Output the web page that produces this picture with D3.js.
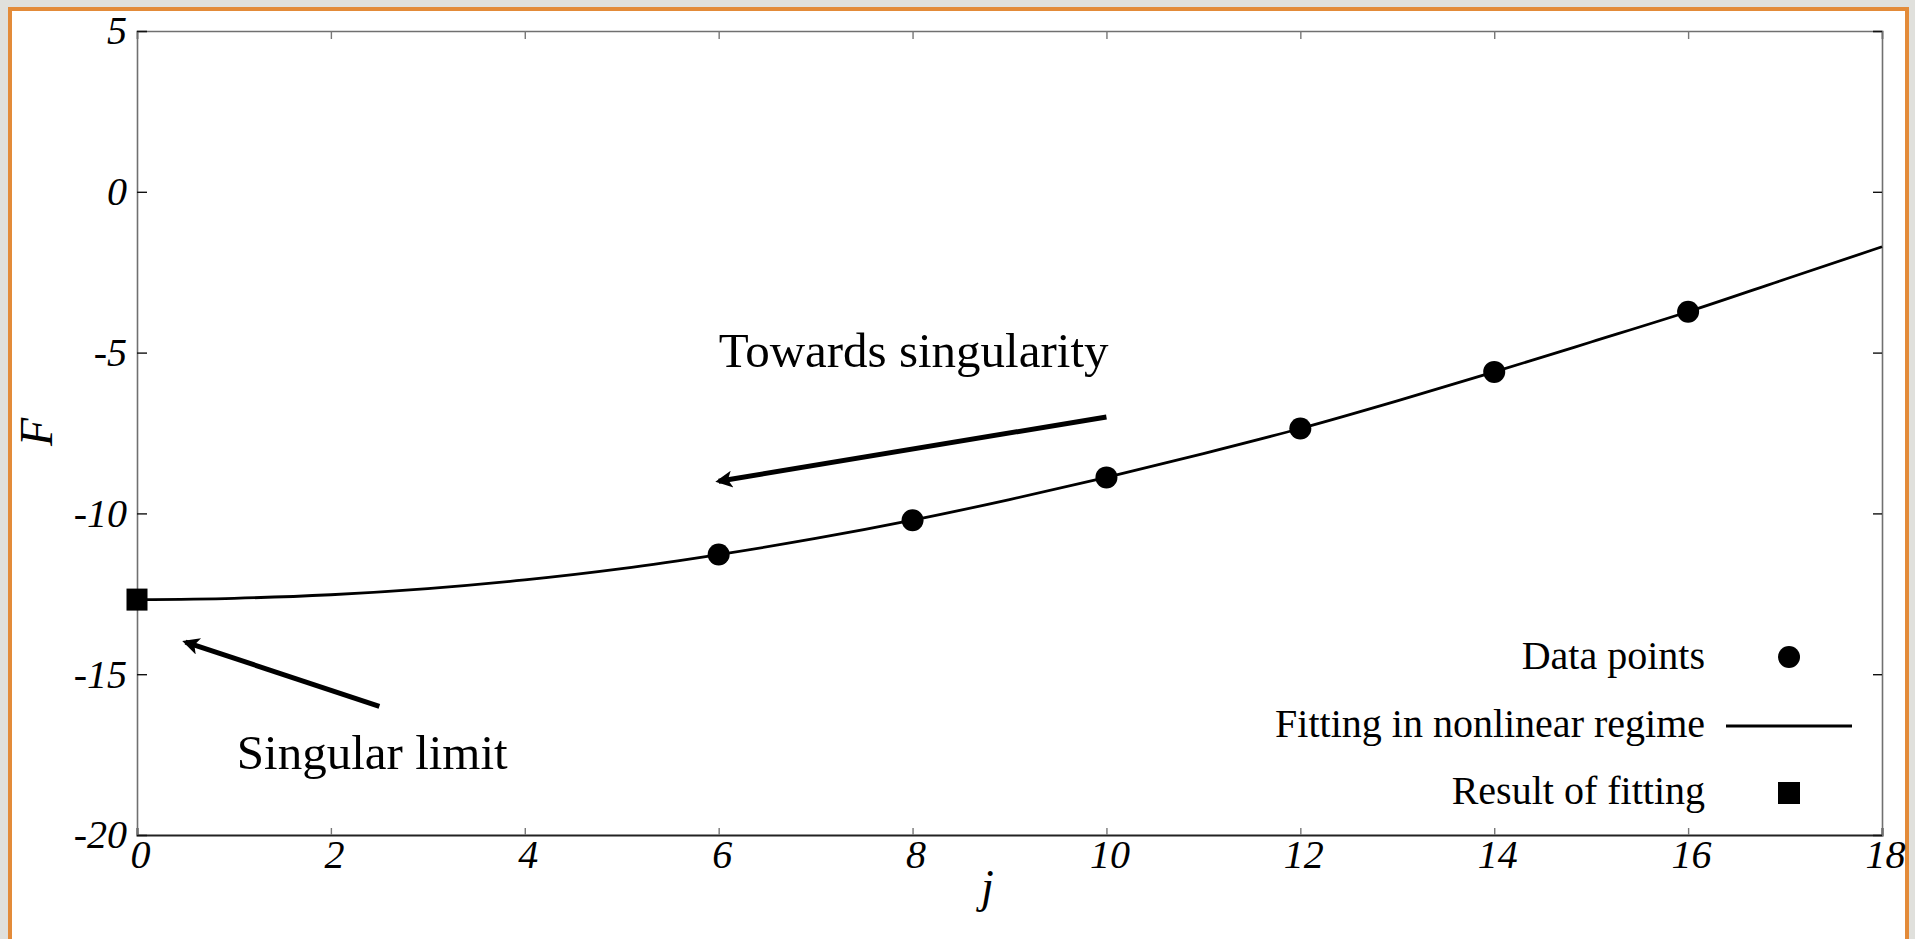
<!DOCTYPE html>
<html>
<head>
<meta charset="utf-8">
<script src="https://cdn.jsdelivr.net/npm/d3@7"></script>
<style>
  body { margin: 0; background: #e0e0dc; overflow: hidden; }
  text { font-family: "Liberation Serif", "Times New Roman", serif; fill: #000; }
  .tick-label { font-style: italic; font-size: 40px; }
</style>
</head>
<body>
<div id="chart"></div>
<script>
// Values
const DATA_J = [6, 8, 10, 12, 14, 16];
const DATA_F = [-11.28, -10.21, -8.88, -7.36, -5.60, -3.73];

const FIT_J = [0, 1, 2, 3, 4, 5, 6, 7, 8, 9, 10, 11, 12, 13, 14, 15, 16, 17, 18];
const FIT_F = [-12.68, -12.64, -12.53, -12.34, -12.07, -11.72, -11.28, -10.78, -10.21,
               -9.57, -8.88, -8.14, -7.36, -6.50, -5.60, -4.67, -3.73, -2.72, -1.71];

const RESULT_J = [0];
const RESULT_F = [-12.68];

const X_TICKS = [0, 2, 4, 6, 8, 10, 12, 14, 16, 18];
const Y_TICKS = [5, 0, -5, -10, -15, -20];

const LEGEND_LABELS = ['Data points', 'Fitting in nonlinear regime', 'Result of fitting'];

// annotations: [fromJ, fromF, toJ, toF]
const ARROWS = [[10, -7.0, 6, -9.0], [2.5, -16.0, 0.5, -14.0]];
const NOTES = [
  { text: 'Towards singularity', j: 6.0, f: -5.45 },
  { text: 'Singular limit', j: 1.03, f: -17.95 }
];

const W = 1915, H = 939;
const plot = { left: 137, right: 1882, top: 31, bottom: 835 };

const svg = d3.select('#chart').append('svg')
  .attr('width', W).attr('height', H);

// page frame
svg.append('rect').attr('width', W).attr('height', H).attr('fill', '#e0e0dc');
svg.append('rect')
  .attr('x', 10).attr('y', 9).attr('width', 1897).attr('height', 1000)
  .attr('fill', '#fff').attr('stroke', '#e38b39').attr('stroke-width', 4);

const x = d3.scaleLinear().domain([0, 18]).range([plot.left, plot.right]);
const y = d3.scaleLinear().domain([-20, 5]).range([plot.bottom, plot.top]);

// axes
const fmt = d => String(d);

const gBottom = svg.append('g').attr('transform', `translate(0,${plot.bottom})`)
  .call(d3.axisBottom(x).tickValues(X_TICKS).tickSize(-7).tickPadding(5).tickFormat(fmt));
const gTop = svg.append('g').attr('transform', `translate(0,${plot.top})`)
  .call(d3.axisTop(x).tickValues(X_TICKS).tickSize(-8).tickFormat(''));
const gLeft = svg.append('g').attr('transform', `translate(${plot.left},0)`)
  .call(d3.axisLeft(y).tickValues(Y_TICKS).tickSize(-10).tickPadding(10).tickFormat(fmt));
const gRight = svg.append('g').attr('transform', `translate(${plot.right},0)`)
  .call(d3.axisRight(y).tickValues(Y_TICKS).tickSize(-9).tickFormat(''));

[gTop, gLeft, gRight].forEach(g => g.select('.domain').attr('stroke', '#707070').attr('stroke-width', 1.6));
gBottom.select('.domain').attr('stroke', '#222').attr('stroke-width', 2);
gBottom.selectAll('.tick line').attr('stroke', '#777').attr('stroke-width', 1.4);
gTop.selectAll('.tick line').attr('stroke', '#777').attr('stroke-width', 1.4);
gLeft.selectAll('.tick line').attr('stroke', '#111').attr('stroke-width', 1.4);
gRight.selectAll('.tick line').attr('stroke', '#111').attr('stroke-width', 1.4);

[gBottom, gLeft].forEach(g => {
  g.attr('font-size', null).attr('font-family', null);
  g.selectAll('.tick text').attr('class', 'tick-label').attr('fill', '#000');
});
gBottom.selectAll('.tick text').attr('dx', 3);

// axis titles
svg.append('text')
  .attr('x', x(9) - 22).attr('y', 902)
  .attr('text-anchor', 'middle')
  .style('font-style', 'italic').style('font-size', '46px')
  .text('j');

svg.append('text')
  .attr('transform', `translate(52,${y(-7.5) - 1}) rotate(-90)`)
  .attr('text-anchor', 'middle')
  .style('font-style', 'italic').style('font-size', '46px')
  .text('F');

// fitted curve
const fit = FIT_J.map((j, i) => [j, FIT_F[i]]);
svg.append('path')
  .datum(fit)
  .attr('fill', 'none').attr('stroke', '#000').attr('stroke-width', 2.8)
  .attr('d', d3.line().x(d => x(d[0])).y(d => y(d[1])).curve(d3.curveMonotoneX));

// data points
svg.append('g').selectAll('circle')
  .data(DATA_J.map((j, i) => [j, DATA_F[i]]))
  .join('circle')
  .attr('cx', d => x(d[0])).attr('cy', d => y(d[1])).attr('r', 11)
  .attr('fill', '#000');

// result of fitting
svg.append('g').selectAll('rect')
  .data(RESULT_J.map((j, i) => [j, RESULT_F[i]]))
  .join('rect')
  .attr('x', d => x(d[0]) - 10.5).attr('y', d => y(d[1]) - 11)
  .attr('width', 21).attr('height', 22)
  .attr('fill', '#000');

// arrows
svg.append('defs').append('marker')
  .attr('id', 'head')
  .attr('viewBox', '0 0 10 10')
  .attr('refX', 8).attr('refY', 5)
  .attr('markerWidth', 3.8).attr('markerHeight', 3.4)
  .attr('orient', 'auto')
  .append('path').attr('d', 'M0,0 L10,5 L0,10 L2.5,5 Z').attr('fill', '#000');

svg.append('g').selectAll('line')
  .data(ARROWS)
  .join('line')
  .attr('x1', d => x(d[0])).attr('y1', d => y(d[1]))
  .attr('x2', d => x(d[2])).attr('y2', d => y(d[3]))
  .attr('stroke', '#000').attr('stroke-width', 5)
  .attr('marker-end', 'url(#head)');

svg.append('g').selectAll('text')
  .data(NOTES)
  .join('text')
  .attr('x', d => x(d.j)).attr('y', d => y(d.f))
  .style('font-size', '49px')
  .text(d => d.text);

// legend
const legend = svg.append('g').attr('transform', 'translate(1705,0)');
const legendRows = [669, 737, 804];

legend.selectAll('text')
  .data(LEGEND_LABELS)
  .join('text')
  .attr('x', 0).attr('y', (d, i) => legendRows[i])
  .attr('text-anchor', 'end')
  .style('font-size', '40px')
  .text(d => d);

legend.append('circle')
  .attr('cx', 84).attr('cy', legendRows[0] - 12)
  .attr('r', 11).attr('fill', '#000');
legend.append('line')
  .attr('x1', 21).attr('x2', 147)
  .attr('y1', legendRows[1] - 11).attr('y2', legendRows[1] - 11)
  .attr('stroke', '#000').attr('stroke-width', 2.8);
legend.append('rect')
  .attr('x', 73).attr('y', legendRows[2] - 22)
  .attr('width', 22).attr('height', 22).attr('fill', '#000');
</script>
</body>
</html>
